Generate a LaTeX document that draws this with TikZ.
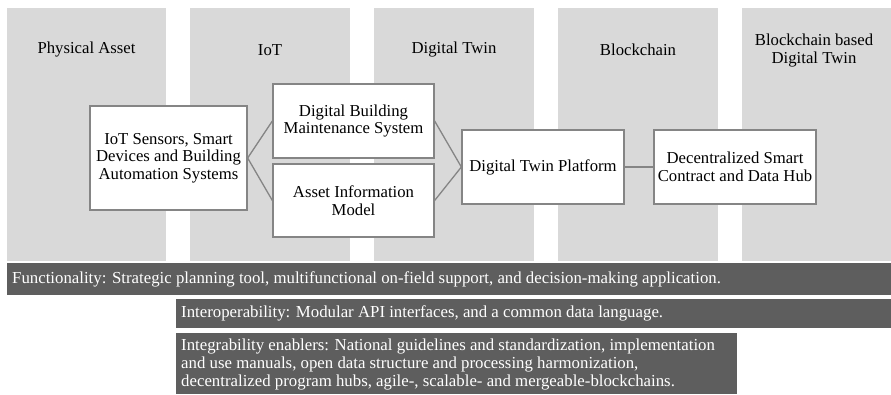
\documentclass[tikz,border=0pt]{standalone}
\usepackage{fontspec}
\setmainfont{Liberation Serif}
\definecolor{colgray}{HTML}{D9D9D9}
\definecolor{banddark}{HTML}{5E5E5E}
\definecolor{edgegray}{HTML}{858585}
\begin{document}
\begin{tikzpicture}[x=1pt,y=-1pt,
  col/.style={fill=colgray, draw=none, inner sep=0pt, anchor=north west},
  title/.style={align=center, font=\fontsize{16.7}{17.5}\selectfont, inner sep=0pt},
  box/.style={draw=edgegray, fill=white, line width=1.3pt, align=center, inner sep=0pt,
     font=\fontsize{16.7}{17.5}\selectfont},
  band/.style={fill=banddark, draw=none, inner sep=0pt, anchor=north west},
  bandtext/.style={text=white, align=left, anchor=west, inner sep=0pt,
     font=\fontsize{16.8}{17.7}\selectfont},
  link/.style={draw=edgegray, line width=1.3pt}
]
\useasboundingbox (0,0) rectangle (891,394);
% columns
\node[col, minimum width=159pt, minimum height=253pt] (c1) at (7,8) {};
\node[col, minimum width=160pt, minimum height=253pt] (c2) at (190,8) {};
\node[col, minimum width=160pt, minimum height=253pt] (c3) at (374,8) {};
\node[col, minimum width=160pt, minimum height=253pt] (c4) at (558,8) {};
\node[col, minimum width=149pt, minimum height=253pt] (c5) at (742,8) {};
% titles
\node[title] (t1) at (86.5,50) {Physical Asset};
\node[title] (t2) at (270,50) {IoT};
\node[title] (t3) at (454,50) {Digital Twin};
\node[title] (t4) at (638,50) {Blockchain};
\node[title] (t5) at (814,50.5) {Blockchain based\\Digital Twin};
% boxes
\node[box, minimum width=157pt, minimum height=104pt] (b1) at (168.5,158) {IoT Sensors, Smart\\Devices and Building\\Automation Systems};
\node[box, minimum width=161pt, minimum height=74pt] (b2) at (353.5,121) {Digital Building\\Maintenance System};
\node[box, minimum width=161pt, minimum height=73pt] (b3) at (353.5,200.5) {Asset Information\\Model};
\node[box, minimum width=162pt, minimum height=74pt] (b4) at (543,167) {Digital Twin Platform};
\node[box, minimum width=162pt, minimum height=74pt] (b5) at (735,167) {Decentralized Smart\\Contract and Data Hub};
% connectors
\draw[link] (b1.east) -- (b2.west);
\draw[link] (b1.east) -- (b3.west);
\draw[link] (b2.east) -- (b4.west);
\draw[link] (b3.east) -- (b4.west);
\draw[link] (b4.east) -- (b5.west);
% bands
\node[band, minimum width=884pt, minimum height=32pt] (f1) at (7,263) {};
\node[band, minimum width=715pt, minimum height=29pt] (f2) at (176,299) {};
\node[band, minimum width=561pt, minimum height=61pt] (f3) at (176,333) {};
\node[bandtext] (ft1) at (12,279) {Functionality: Strategic planning tool, multifunctional on-field support, and decision-making application.};
\node[bandtext] (ft2) at (181,313.5) {Interoperability: Modular API interfaces, and a common data language.};
\node[bandtext] (ft3) at (181,364.5) {Integrability enablers: National guidelines and standardization, implementation\\and use manuals, open data structure and processing harmonization,\\decentralized program hubs, agile-, scalable- and mergeable-blockchains.};
\end{tikzpicture}
\end{document}
